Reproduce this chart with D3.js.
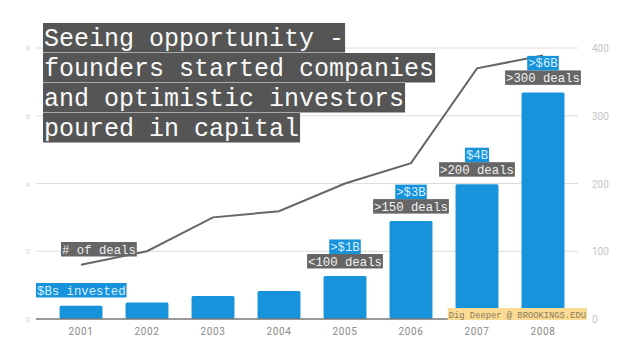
<!DOCTYPE html>
<html><head><meta charset="utf-8">
<script src="https://cdn.jsdelivr.net/npm/d3@7"></script>
<style>body{margin:0;background:#fff}svg{display:block}</style>
</head><body>
<svg id="c" width="638" height="359"></svg>
<script>
const years = ["2001","2002","2003","2004","2005","2006","2007","2008"];
const invested = [0.39, 0.49, 0.68, 0.83, 1.27, 2.89, 3.98, 6.69];
const deals = [80, 100, 150, 159, 200, 230, 370, 389];
const leftTicks = [0, 2, 4, 6, 8];
const rightTicks = [0, 100, 200, 300, 400];
const dollarLabels = ["", "", "", "", ">$1B", ">$3B", "$4B", ">$6B"];
const dealLabels = ["", "", "", "", "<100 deals", ">150 deals", ">200 deals", ">300 deals"];
const titleLines = ["Seeing opportunity -", "founders started companies", "and optimistic investors", "poured in capital"];

const svg = d3.select("#c");
const mono = "'Liberation Mono', monospace";
const blue = "#1693db", grayBox = "#666";
const x = d3.scaleBand().domain(years).range([48, 576]).paddingInner(0.35).paddingOuter(0.175);
const yL = d3.scaleLinear().domain([0, 8]).range([319, 48]);
const yR = d3.scaleLinear().domain([0, 400]).range([319, 48]);
const cx = d => x(d) + x.bandwidth() / 2;

// gridlines
svg.append("g").selectAll("line").data(leftTicks.slice(1)).join("line")
  .attr("x1", 36).attr("x2", 578).attr("y1", d => yL(d)).attr("y2", d => yL(d))
  .attr("stroke", "#ddd").attr("stroke-width", 1);
// left tick labels
svg.append("g").selectAll("text").data(leftTicks).join("text")
  .attr("x", 28).attr("y", d => yL(d) + 3).attr("text-anchor", "middle")
  .attr("font-family", "Roboto").attr("font-size", 8).attr("fill", "#d4d4d4").text(d => d);
// right tick labels
svg.append("g").selectAll("text").data(rightTicks).join("text")
  .attr("x", 592).attr("y", d => yR(d) + 4)
  .attr("font-family", "Roboto").attr("font-size", 10).attr("fill", "#c4c4c4").text(d => d);

// bars
svg.append("g").selectAll("rect").data(years).join("rect")
  .attr("x", d => x(d)).attr("width", x.bandwidth())
  .attr("y", (d, i) => yL(invested[i])).attr("height", (d, i) => yL(0) - yL(invested[i]))
  .attr("rx", 1.5).attr("fill", blue);

// baseline
svg.append("line").attr("x1", 36).attr("x2", 587).attr("y1", yL(0)).attr("y2", yL(0))
  .attr("stroke", "#777").attr("stroke-width", 1.5);

// x labels
svg.append("g").selectAll("text").data(years).join("text")
  .attr("x", d => cx(d)).attr("y", 335).attr("text-anchor", "middle")
  .attr("font-family", "Roboto").attr("font-size", 10).attr("letter-spacing", 0.6).attr("fill", "#8a8a8a").text(d => d);

// line
const line = d3.line().x((d, i) => cx(years[i])).y(d => yR(d));
svg.append("path").datum(deals).attr("d", line).attr("fill", "none")
  .attr("stroke", "#666").attr("stroke-width", 2);

function label(xc, yTop, txt, bg, fg, size, h, anchor) {
  const g = svg.append("g");
  const t = g.append("text").attr("font-family", mono).attr("font-size", size)
    .attr("fill", fg).text(txt).attr("y", yTop + h * 0.8);
  const w = t.node().getComputedTextLength();
  const left = anchor === "start" ? xc : xc - w / 2;
  t.attr("x", left);
  g.insert("rect", "text").attr("x", left - 1).attr("y", yTop).attr("width", w + 2).attr("height", h).attr("fill", bg);
}

// bar annotations
years.forEach((yr, i) => {
  if (!dealLabels[i]) return;
  const top = yL(invested[i]);
  label(cx(yr), top - 22, dealLabels[i], grayBox, "#f2f2f2", 12.3, 14.5);
  label(cx(yr), top - 36.5, dollarLabels[i], blue, "#d8efff", 12.3, 14.5);
});

// series labels
label(62, 242, "# of deals", grayBox, "#eee", 12.3, 14.5, "start");
label(37, 283, "$Bs invested", blue, "#d8efff", 12.3, 14.5, "start");

// source
(function(){
  const g = svg.append("g");
  const t = g.append("text").attr("font-family", mono).attr("font-size", 8.8).attr("fill", "#8a7a5a")
    .attr("x", 586).attr("y", 317.5).attr("text-anchor", "end").text("Dig Deeper @ BROOKINGS.EDU");
  const b = t.node().getBBox();
  g.insert("rect", "text").attr("x", b.x - 1).attr("y", 308).attr("width", b.width + 2).attr("height", 12).attr("fill", "#fbdb94");
})();

// title
titleLines.forEach((ln, i) => {
  const g = svg.append("g");
  const t = g.append("text").attr("font-family", mono).attr("font-size", 25)
    .attr("fill", "#fafafa").attr("x", 44).attr("y", 24 + i * 30 + 22).text(ln);
  const w = t.node().getComputedTextLength();
  g.insert("rect", "text").attr("x", 43).attr("y", 23 + i * 30).attr("width", w + 2).attr("height", 29.5).attr("fill", "#555");
});
</script>
</body></html>
